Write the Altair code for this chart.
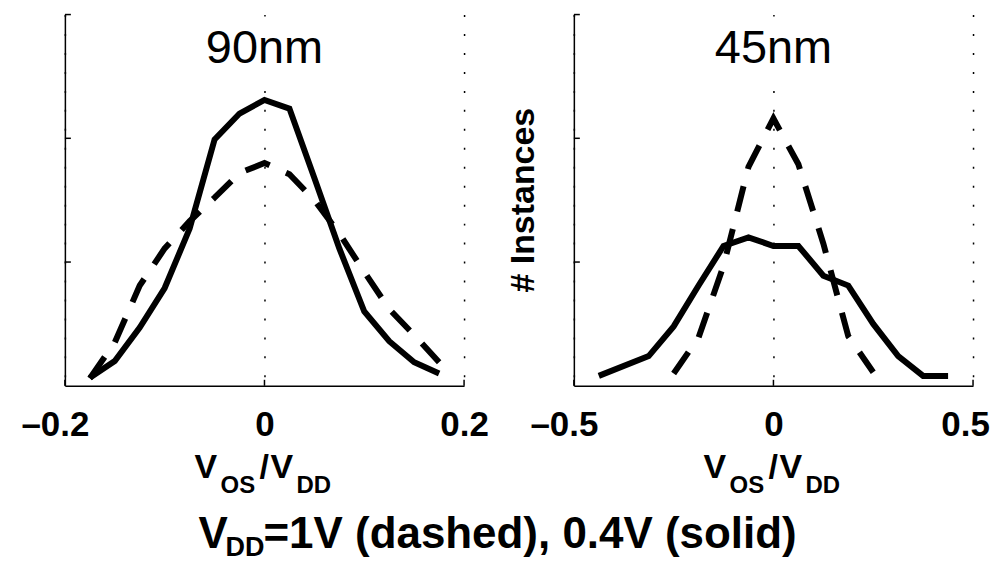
import altair as alt
import pandas as pd

FONT = "Liberation Sans"
W, H = 400, 372

# ---- data ----
x90 = [-0.175, -0.15, -0.125, -0.1, -0.075, -0.05, -0.025, 0.0,
       0.025, 0.05, 0.075, 0.1, 0.125, 0.15, 0.175]
solid90 = [0.065, 0.20, 0.47, 0.79, 1.27, 1.99, 2.20, 2.31,
           2.24, 1.68, 1.11, 0.60, 0.36, 0.19, 0.10]
dashed90 = [0.06, 0.35, 0.81, 1.11, 1.33, 1.52, 1.72, 1.80,
            1.71, 1.50, 1.23, 0.92, 0.62, 0.41, 0.19]

x45_solid = [-0.4375, -0.3125, -0.25, -0.1875, -0.125, -0.0625, 0.0,
             0.0625, 0.125, 0.1875, 0.25, 0.3125, 0.375, 0.4375]
solid45 = [0.08, 0.24, 0.48, 0.81, 1.13, 1.20, 1.13,
           1.13, 0.89, 0.81, 0.50, 0.24, 0.08, 0.08]
x45_dashed = [-0.25, -0.1875, -0.125, -0.0625, 0.0, 0.0625, 0.125, 0.1875, 0.25]
dashed45 = [0.10, 0.39, 0.97, 1.77, 2.16, 1.79, 1.15, 0.40, 0.11]

y_ticks = [1, 2, 3]
xticks90 = [-0.2, 0, 0.2]
xticks45 = [-0.5, 0, 0.5]
panel_titles = ["90nm", "45nm"]
x_title_parts = ["V", "OS", "/", "V", "DD"]
main_title_parts = ["V", "DD", "=1V (dashed), 0.4V (solid)"]
y_title = "# Instances"

ONE = pd.DataFrame({"k": [0]})


def txt(text, x, y, size, weight="bold", align="left", baseline="alphabetic", angle=0):
    return alt.Chart(ONE).mark_text(
        text=text, font=FONT, fontSize=size, fontWeight=weight, align=align,
        baseline=baseline, angle=angle, color="black"
    ).encode(x=alt.value(x), y=alt.value(y))


def panel(xdom, xticks, xs, ys, xd, yd, title, with_ytitle, with_main):
    xscale = alt.Scale(domain=xdom, nice=False, zero=False)
    yscale = alt.Scale(domain=[0, 3], nice=False, zero=False)
    xaxis = alt.Axis(
        values=xticks, grid=True, gridDash=[2, 17], gridColor="black", gridWidth=1.5,
        gridOpacity=1, ticks=False, tickSize=0, domain=True, domainColor="black",
        domainWidth=1.5, labelFont=FONT, labelFontSize=35, labelFontWeight="bold",
        labelColor="black", labelPadding=22, labelFlush=False, labelOverlap=False,
        labelExpr="(datum.value < 0 ? '–' : '') + (datum.value == 0 ? '0' : format(abs(datum.value), '.1f'))",
        labelOffset={"condition": [{"test": "datum.value < 0", "value": -10},
                                   {"test": "datum.value == 0.5", "value": -8}],
                     "value": 0},
        title=None,
    )
    yaxis = alt.Axis(values=[0, 1, 2, 3], grid=False, ticks=False, labels=False,
                     domain=True, domainColor="black", domainWidth=1.5, title=None)

    solid = alt.Chart(pd.DataFrame({"x": xs, "y": ys})).mark_line(
        color="black", strokeWidth=6
    ).encode(x=alt.X("x:Q", scale=xscale, axis=xaxis),
             y=alt.Y("y:Q", scale=yscale, axis=yaxis))
    dashed = alt.Chart(pd.DataFrame({"x": xd, "y": yd})).mark_line(
        color="black", strokeWidth=6, strokeDash=[26, 18]
    ).encode(x=alt.X("x:Q", scale=xscale, axis=xaxis),
             y=alt.Y("y:Q", scale=yscale, axis=yaxis))
    ytk = alt.Chart(pd.DataFrame({"v": y_ticks})).mark_rule(
        color="black", strokeWidth=1.5
    ).encode(y=alt.Y("v:Q", scale=yscale, axis=yaxis), x=alt.value(0), x2=alt.value(6))
    xtk = alt.Chart(pd.DataFrame({"v": xticks})).mark_rule(
        color="black", strokeWidth=1.5
    ).encode(x=alt.X("v:Q", scale=xscale, axis=xaxis), y=alt.value(H), y2=alt.value(H - 6))
    bg = alt.Chart(ONE).mark_rect(color="white").encode(
        x=alt.value(W / 2 - 12), x2=alt.value(W / 2 + 12), y=alt.value(2), y2=alt.value(64))

    layers = [bg, solid, dashed, ytk, xtk,
              txt(title, W / 2, 49, 47, weight="normal", align="center")]
    # x axis title  V_OS / V_DD
    layers += [
        txt(x_title_parts[0], 130, 464, 34),
        txt(x_title_parts[1], 156, 479, 24),
        txt(x_title_parts[2], 195, 464, 34),
        txt(x_title_parts[3], 206, 464, 34),
        txt(x_title_parts[4], 232, 479, 24),
    ]
    if with_ytitle:
        layers.append(txt(y_title, -50, 186, 34, align="center", baseline="middle", angle=270))
    if with_main:
        layers += [
            txt(main_title_parts[0], 134, 535, 44),
            txt(main_title_parts[1], 161, 543, 27),
            txt(main_title_parts[2], 199, 535, 44),
        ]
    return alt.layer(*layers).properties(width=W, height=H)


left = panel([-0.2, 0.2], xticks90, x90, solid90, x90, dashed90, panel_titles[0], False, True)
right = panel([-0.5, 0.5], xticks45, x45_solid, solid45, x45_dashed, dashed45,
              panel_titles[1], True, False)

chart = alt.hconcat(left, right, spacing=110, bounds="flush").properties(
    padding={"left": 12, "top": 5, "right": 0, "bottom": 0}
).configure_view(stroke=None)

chart.save("out.html", embed_options={"renderer": "svg", "actions": False})
